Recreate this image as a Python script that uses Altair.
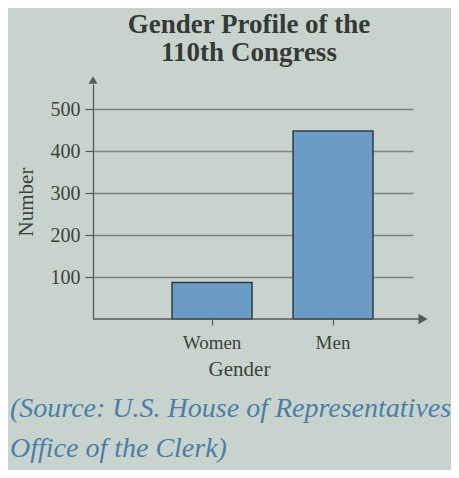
import altair as alt
import pandas as pd

categories = ["Women", "Men"]
counts = [87, 448]
y_ticks = [100, 200, 300, 400, 500]
title_lines = ["Gender Profile of the", "110th Congress"]
source_lines = ["(Source: U.S. House of Representatives", "Office of the Clerk)"]

df = pd.DataFrame({"Gender": categories, "Number": counts})
one = pd.DataFrame({"k": [0]})

W, H = 320, 235
serif = "Liberation Serif"
ink = "#3d423f"

bars = alt.Chart(df).mark_bar(
    color="#6b9cc6", stroke="#2f3b44", strokeWidth=1.5
).encode(
    x=alt.X("Gender:N", sort=categories,
            scale=alt.Scale(paddingInner=0.339, paddingOuter=0.492, align=0.664),
            axis=alt.Axis(title="Gender", labelAngle=0, domain=False, ticks=True,
                          tickSize=6, tickColor="#555b57", tickWidth=1.2,
                          labelPadding=8, labelFont=serif, labelFontSize=19,
                          labelColor=ink, titleFont=serif, titleFontSize=21,
                          titleFontWeight="normal", titleColor=ink,
                          titleX=146, titleY=39, titleBaseline="top", grid=False)),
    y=alt.Y("Number:Q", scale=alt.Scale(domain=[0, 560], nice=False),
            axis=alt.Axis(title="Number", values=y_ticks, grid=True,
                          gridColor="#7c8580", gridWidth=1.4,
                          domainColor="#555b57", domainWidth=1.3,
                          tickSize=8, tickColor="#555b57", tickWidth=1.2,
                          labelPadding=5, labelFont=serif, labelFontSize=20,
                          labelColor=ink, titleFont=serif, titleFontSize=21,
                          titleFontWeight="normal", titleColor=ink,
                          titleX=-57)),
)

x_line = alt.Chart(one).mark_rule(color="#555b57", strokeWidth=1.3).encode(
    x=alt.value(0), x2=alt.value(330), y=alt.value(H)
)
x_arrow = alt.Chart(one).mark_point(
    shape="triangle-right", filled=True, color="#555b57", size=110, opacity=1
).encode(x=alt.value(330), y=alt.value(H))
y_arrow = alt.Chart(one).mark_point(
    shape="triangle-up", filled=True, color="#555b57", size=80, opacity=1
).encode(x=alt.value(0), y=alt.value(-4))

source = alt.Chart(one).mark_text(
    align="left", baseline="alphabetic", font=serif, fontStyle="italic",
    fontSize=28, color="#4a7fa8", lineHeight=40
).encode(x=alt.value(-83), y=alt.value(333), text=alt.value(source_lines))

chart = alt.layer(bars, x_line, x_arrow, y_arrow, source).properties(
    width=W, height=H,
    title=alt.TitleParams(title_lines, font=serif, fontSize=27, fontWeight="bold",
                          color="#353a37", anchor="middle", frame="group",
                          lineHeight=28, offset=9, dx=-4),
    autosize=alt.AutoSizeParams(type="none"),
    padding={"left": 85, "top": 76, "right": 38, "bottom": 151},
).configure(background="#c9d3cd").configure_view(stroke=None)

chart.save("out.html", embed_options={"renderer": "svg", "actions": False})
